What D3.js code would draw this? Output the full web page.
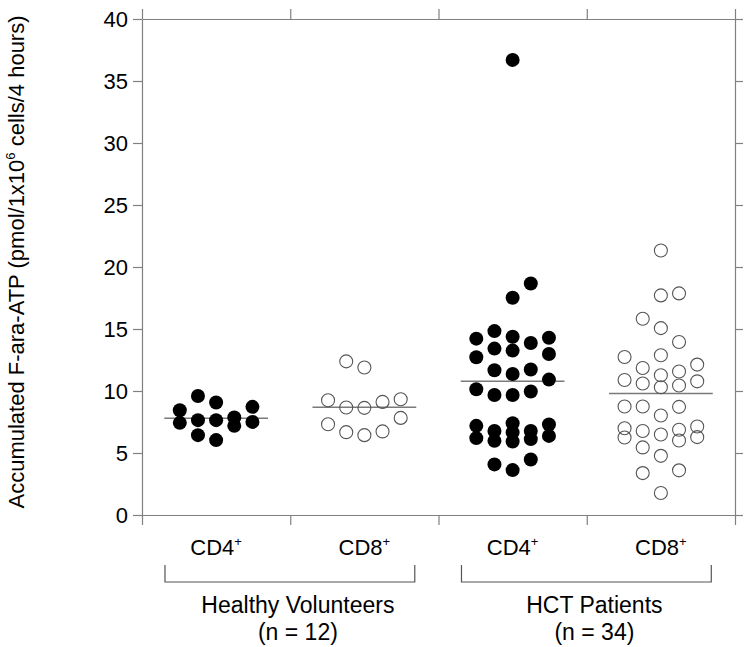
<!DOCTYPE html>
<html><head><meta charset="utf-8">
<script src="https://cdn.jsdelivr.net/npm/d3@7"></script>
<style>body{margin:0;background:#fff} text{font-family:Arial,"Liberation Sans",sans-serif}</style>
</head><body><svg id="c" width="750" height="647"></svg>
<script>
// ---- data ----
const categories = ["HV_CD4", "HV_CD8", "HCT_CD4", "HCT_CD8"];
const categoryLabels = ["CD4", "CD8", "CD4", "CD8"];
const filled = [true, false, true, false];
const groupNames = ["Healthy Volunteers", "HCT Patients"];
const groupN = ["(n = 12)", "(n = 34)"];
const yTicks = [0, 5, 10, 15, 20, 25, 30, 35, 40];
const yTitle = "Accumulated F-ara-ATP (pmol/1x10";
// [value, swarm column]
const hvCD4 = [[8.45,-2],[7.43,-2],[9.60,-1],[7.65,-1],[6.44,-1],[9.07,0],[7.65,0],[6.04,0],[7.86,1],[7.19,1],[8.72,2],[7.51,2]];
const hvCD8 = [[12.39,-1],[11.89,0],[9.26,-2],[8.67,-1],[8.64,0],[9.12,1],[9.34,2],[7.32,-2],[6.68,-1],[6.44,0],[6.74,1],[7.83,2]];
const hctCD4 = [[18.67,1],[17.52,0],[14.22,-2],[14.83,-1],[14.38,0],[13.87,1],[14.30,2],[12.72,-2],[13.42,-1],[13.26,0],[12.98,2],[11.67,-1],[11.37,0],[11.73,1],[10.92,2],[10.14,-2],[9.68,-1],[9.68,0],[9.96,1],[7.19,-2],[6.20,-2],[6.78,-1],[5.98,-1],[7.40,0],[6.66,0],[5.93,0],[6.78,1],[6.12,1],[7.30,2],[6.38,2],[4.08,-1],[3.62,0],[4.48,1],[36.70,0]];
const hctCD8 = [[21.33,0],[17.71,0],[17.87,1],[15.83,-1],[15.07,0],[13.95,1],[12.74,-2],[12.88,0],[11.86,-1],[11.57,1],[12.13,2],[10.89,-2],[10.60,-1],[11.27,0],[10.30,0],[10.44,1],[10.78,2],[8.75,-2],[8.75,-1],[8.02,0],[8.72,1],[7.00,-2],[6.25,-2],[6.78,-1],[5.45,-1],[6.49,0],[4.77,0],[6.87,1],[6.01,1],[7.14,2],[6.28,2],[3.38,-1],[3.60,1],[1.77,0]];
const series = [hvCD4, hvCD8, hctCD4, hctCD8];

// ---- layout ----
const L = 142, R = 735, T = 19, B = 515;
const svg = d3.select("#c");
const x = d3.scaleBand().domain(categories).range([L, R]).padding(0);
const xEdge = d3.scaleLinear().domain([0, categories.length]).range([L, R]);
const y = d3.scaleLinear().domain([0, 40]).range([B, T]);
const bw = x.bandwidth();
const slot = d3.scaleLinear().domain([-2, 2]).range([-0.245 * bw, 0.245 * bw]);
const frameColor = "#808080";
const FS = 22;

// axes
const edgeTicks = d3.range(0, categories.length + 1);
function styleAxis(g) {
  g.select(".domain").attr("stroke", frameColor).attr("stroke-width", 1.2);
  g.selectAll(".tick line").attr("stroke", frameColor).attr("stroke-width", 1.2);
}
svg.append("g").attr("transform", `translate(${L},0)`)
  .call(d3.axisLeft(y).tickValues(yTicks).tickSize(9).tickSizeOuter(0).tickPadding(5))
  .call(styleAxis)
  .call(g => g.selectAll(".tick text").attr("font-size", FS).attr("fill", "#000")
        .attr("font-family", "Arial, 'Liberation Sans', sans-serif"));
svg.append("g").attr("transform", `translate(${R},0)`)
  .call(d3.axisRight(y).tickValues(yTicks).tickSize(8).tickSizeOuter(0).tickFormat(""))
  .call(styleAxis);
svg.append("g").attr("transform", `translate(0,${T})`)
  .call(d3.axisTop(xEdge).tickValues(edgeTicks).tickSize(10).tickSizeOuter(0).tickFormat(""))
  .call(styleAxis);
svg.append("g").attr("transform", `translate(0,${B})`)
  .call(d3.axisBottom(xEdge).tickValues(edgeTicks).tickSize(10).tickSizeOuter(0).tickFormat(""))
  .call(styleAxis);

// mean lines
series.forEach((s, i) => {
  const m = d3.mean(s, d => d[0]);
  const cx = x(categories[i]) + bw / 2;
  svg.append("line")
    .attr("x1", cx - 0.35 * bw).attr("x2", cx + 0.35 * bw)
    .attr("y1", y(m)).attr("y2", y(m))
    .attr("stroke", "#7a7a7a").attr("stroke-width", 1.6);
});

// dots
series.forEach((s, i) => {
  const cx = x(categories[i]) + bw / 2;
  svg.append("g").selectAll("circle").data(s).join("circle")
    .attr("cx", d => cx + slot(d[1]))
    .attr("cy", d => y(d[0]))
    .attr("r", filled[i] ? 7 : 6.5)
    .attr("fill", filled[i] ? "#000" : "none")
    .attr("stroke", filled[i] ? "none" : "#555")
    .attr("stroke-width", 1.1);
});

// category labels
categories.forEach((c, i) => {
  const t = svg.append("text")
    .attr("x", x(c) + bw / 2).attr("y", 555)
    .attr("text-anchor", "middle").attr("font-size", FS).attr("fill", "#000");
  t.append("tspan").text(categoryLabels[i]);
  t.append("tspan").attr("font-size", 13).attr("dy", -9).text("+");
});

// group brackets and labels
groupNames.forEach((g, gi) => {
  const c0 = x(categories[gi * 2]) + bw / 2;
  const c1 = x(categories[gi * 2 + 1]) + bw / 2;
  const x0 = c0 - 0.345 * bw, x1 = c1 + 0.34 * bw;
  svg.append("path")
    .attr("d", `M${x0},565V582H${x1}V565`)
    .attr("fill", "none").attr("stroke", "#555").attr("stroke-width", 1.2);
  const mid = (x0 + x1) / 2 + 8;
  svg.append("text").attr("x", mid).attr("y", 613).attr("text-anchor", "middle")
    .attr("font-size", 23).attr("fill", "#000").text(g);
  svg.append("text").attr("x", mid).attr("y", 640).attr("text-anchor", "middle")
    .attr("font-size", 23).attr("fill", "#000").text(groupN[gi]);
});

// y title
const yt = svg.append("text")
  .attr("transform", `translate(24,262) rotate(-90)`)
  .attr("text-anchor", "middle").attr("font-size", FS).attr("fill", "#000");
yt.append("tspan").text(yTitle);
yt.append("tspan").attr("font-size", 13).attr("dy", -9).text("6");
yt.append("tspan").attr("dy", 9).text(" cells/4 hours)");
</script></body></html>
